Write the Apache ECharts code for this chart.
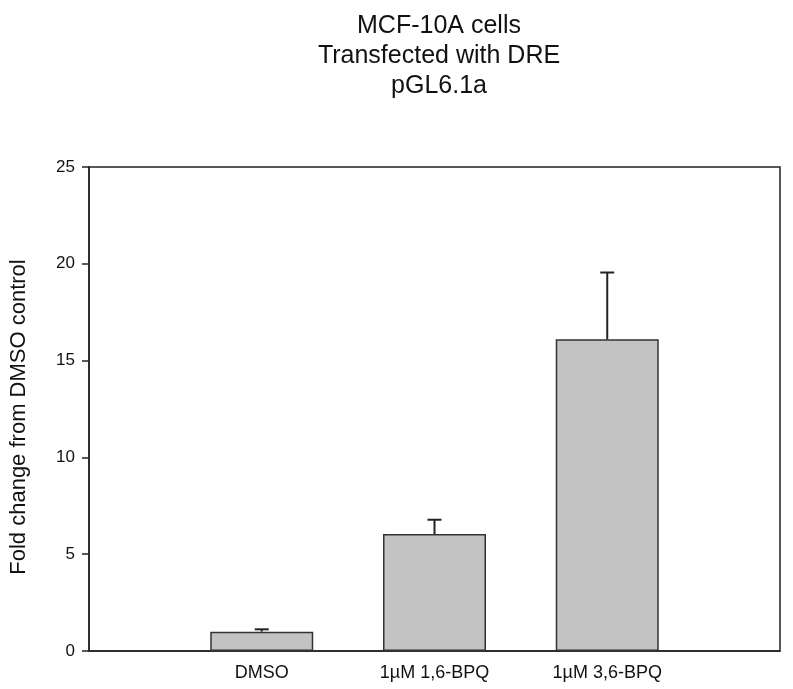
<!DOCTYPE html>
<html>
<head>
<meta charset="utf-8">
<script src="https://cdn.jsdelivr.net/npm/echarts@6/dist/echarts.min.js"></script>
<style>html,body{margin:0;padding:0;background:#fff;}#c{width:793px;height:689px;}</style>
</head>
<body>
<div id="c"></div>
<script>
const categories = ['DMSO', '1\u00B5M 1,6-BPQ', '1\u00B5M 3,6-BPQ'];
const positions = [1, 2, 3];
const means = [1.0, 6.04, 16.1];
const errors = [0.12, 0.74, 3.45];
const yTicks = [0, 5, 10, 15, 20, 25];
const titleLines = ['MCF-10A cells', 'Transfected with DRE', 'pGL6.1a'];

const font = 'Liberation Sans, Arial, sans-serif';
const chart = echarts.init(document.getElementById('c'), null, {renderer: 'canvas'});
const barData = positions.map((p, i) => [p, means[i]]);
const errData = positions.map((p, i) => [p, means[i], means[i] + errors[i]]);

chart.setOption({
  animation: false,
  backgroundColor: '#fff',
  title: {
    text: titleLines.join('\n'),
    left: 434, top: 6, textAlign: 'center',
    textStyle: {fontFamily: font, fontSize: 25, fontWeight: 'normal', color: '#111', lineHeight: 30}
  },
  grid: {left: 88, right: 13, top: 167, bottom: 38, show: true, borderColor: '#222', borderWidth: 1.5, backgroundColor: 'transparent'},
  xAxis: {
    type: 'value', min: 0, max: 4, interval: 1,
    splitLine: {show: false},
    axisLine: {show: true, lineStyle: {color: '#222', width: 1.5}},
    axisTick: {show: false},
    axisLabel: {
      margin: 13, fontFamily: font, fontSize: 18, color: '#111',
      formatter: v => { const i = positions.indexOf(v); return i >= 0 ? categories[i] : ''; }
    }
  },
  yAxis: {
    type: 'value', min: yTicks[0], max: yTicks[yTicks.length - 1], interval: 5,
    name: 'Fold change from DMSO control', nameLocation: 'middle', nameGap: 59,
    nameTextStyle: {fontFamily: font, fontSize: 22, color: '#111', padding: [0, 16, 0, 0]},
    splitLine: {show: false},
    axisLine: {show: true, lineStyle: {color: '#222', width: 1.5}},
    axisTick: {show: true, inside: false, length: 7, lineStyle: {color: '#222', width: 1.5}},
    axisLabel: {margin: 14, fontFamily: font, fontSize: 17, color: '#111'}
  },
  series: [
    {
      type: 'bar', data: barData, barWidth: 103,
      itemStyle: {color: '#c3c3c3', borderColor: '#333', borderWidth: 1.5}
    },
    {
      type: 'custom', data: errData, z: 5,
      renderItem: function (params, api) {
        const x = api.value(0);
        const top = api.coord([x, api.value(2)]);
        const base = api.coord([x, api.value(1)]);
        const half = 7;
        return {
          type: 'group',
          children: [
            {type: 'line', shape: {x1: base[0], y1: base[1], x2: top[0], y2: top[1]}, style: {stroke: '#222', lineWidth: 2}},
            {type: 'line', shape: {x1: top[0] - half, y1: top[1], x2: top[0] + half, y2: top[1]}, style: {stroke: '#222', lineWidth: 2}}
          ]
        };
      }
    }
  ]
});
</script>
</body>
</html>
